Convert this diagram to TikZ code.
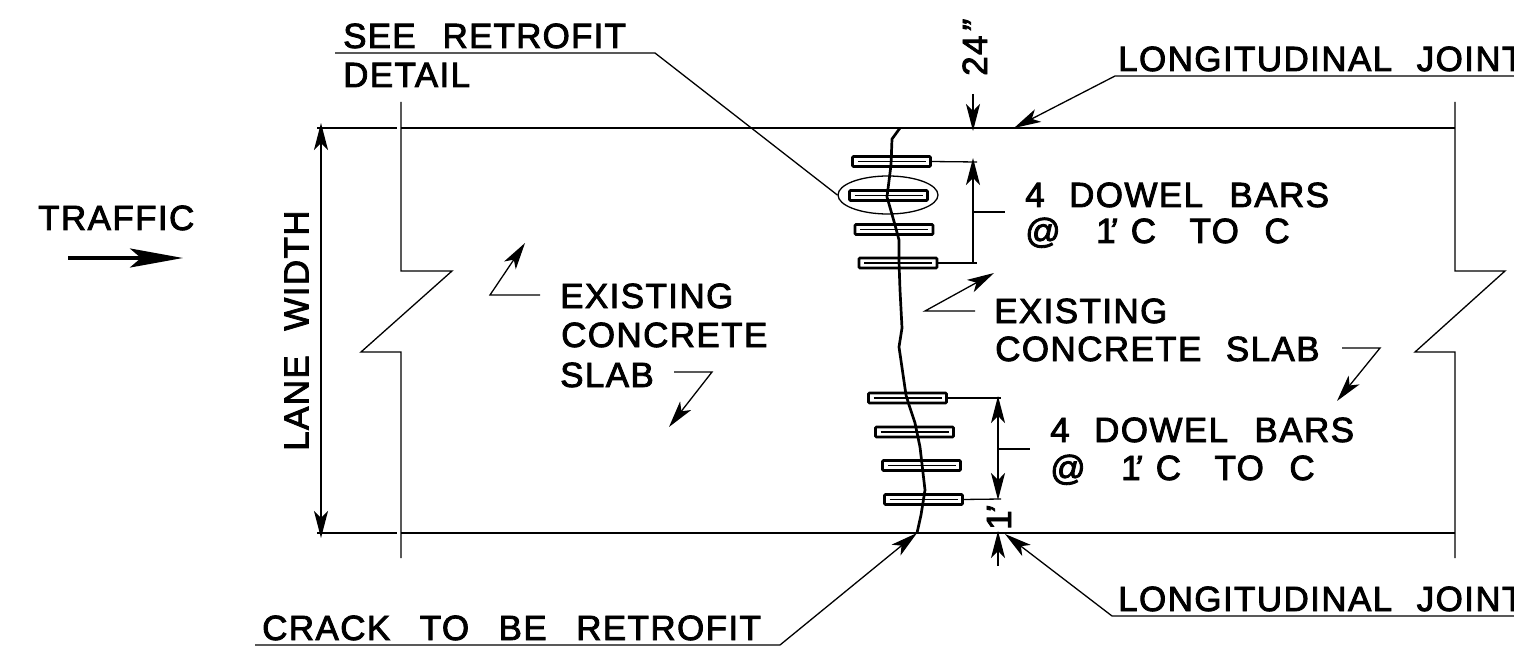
\documentclass[tikz,border=0pt]{standalone}
\usepackage{fontspec}
\setmainfont[LetterSpace=4,WordSpace=2.2,FakeBold=2.4]{Liberation Sans}
\usetikzlibrary{arrows.meta,shapes.geometric}
\newcommand{\ccspec}{@\hspace{11pt} 1\kern-7pt\textit{'}\kern-12pt\ C\hspace{9pt} TO\hspace{1pt} C}
\tikzset{
  lbl/.style={inner sep=0pt,anchor=base west,font=\fontsize{35}{35}\selectfont},
  thin line/.style={line width=1.3pt},
  slab/.style={line width=2.7pt},
  crackline/.style={line width=2.7pt,line join=round},
  barbox/.style={draw,line width=2.6pt,rounded corners=1pt,inner sep=0pt,outer sep=0pt,minimum width=78pt,minimum height=10pt},
  barcore/.style={line width=1.1pt},
  tip/.style={-{Stealth[length=27pt,width=14pt,inset=7pt]}},
  tips/.style={{Stealth[length=27pt,width=14pt,inset=7pt]}-{Stealth[length=27pt,width=14pt,inset=7pt]}},
}
\begin{document}
\begin{tikzpicture}[x=1pt,y=-1pt]
\useasboundingbox (0,0) rectangle (1514,652);
\clip (0,0) rectangle (1514,652);
% labels
\node[lbl] (traffic) at (38,230) {TRAFFIC};
\node[lbl,rotate=90] (lane) at (308.5,451) {LANE WIDTH};
\node[lbl] (see) at (343,48) {\addfontfeature{LetterSpace=3.4}SEE\hspace{3pt} RETROFIT};
\node[lbl] (detail) at (343,87) {DETAIL};
\node[lbl,rotate=90] (dim24) at (987,76) {24\kern3pt\textit{"}};
\node[lbl,rotate=90] (dim1) at (1011,530) {1\kern-4pt\textit{'}};
\node[lbl] (jointa) at (1118,71) {LONGITUDINAL JOINT};
\node[lbl] (jointb) at (1118,611) {LONGITUDINAL JOINT};
\node[lbl] (crack) at (262,640) {CRACK\hspace{5pt} TO\hspace{5pt} BE\hspace{5pt} RETROFIT};
\node[lbl] (dowa) at (1025,207) {4 DOWEL\hspace{2pt} BARS};
\node[lbl] (cca) at (1025,243) {\ccspec};
\node[lbl] (dowb) at (1050,442) {4 DOWEL\hspace{2pt} BARS};
\node[lbl] (ccb) at (1050,480) {\ccspec};
\node[lbl] (exa) at (560,308) {EXISTING};
\node[lbl] (exb) at (561,347) {CONCRETE};
\node[lbl] (exc) at (560,387) {SLAB};
\node[lbl] (exd) at (994,323) {EXISTING};
\node[lbl] (exe) at (995,361) {CONCRETE SLAB};
% slab edges
\coordinate (tl) at (401,128); \coordinate (tr) at (1455,128);
\coordinate (bl) at (401,533); \coordinate (br) at (1455,533);
\draw[slab] (tl) -- (tr);
\draw[slab] (bl) -- (br);
% break lines
\draw[thin line,line join=miter] (401,102) -- (401,271) -- (452,271) -- (361,352) -- (401,352) -- (401,558);
\draw[thin line,line join=miter] (1455,102) -- (1455,271) -- (1505,271) -- (1415,352) -- (1455,352) -- (1455,558);
% lane width dimension
\draw[thin line] (317,128) -- (397,128);
\draw[thin line] (317,533) -- (397,533);
\draw[thin line,tips] (321,123) -- (321,538);
% traffic arrow
\coordinate (tra) at (68,258); \coordinate (trb) at (183,258);
\draw[line width=4pt,-{Stealth[length=53pt,width=19pt,inset=11pt]}] (tra) -- (trb);
% crack
\draw[crackline] (900,128) -- (892,139) -- (891,165) -- (887,197) -- (895,225) -- (899,240) -- (899,262) -- (900,290) -- (902,328) -- (899,347) -- (906,395) -- (909,405) -- (915,423) -- (920,447) -- (925,490) -- (921,515) -- (917,533);
% dowel bars
\foreach \n/\cx/\cy in {a/891.5/161.5,b/888.5/195.5,c/894/229.5,d/898/263,e/907.5/398,f/914.5/432,g/921.5/465.5,h/923.5/499.5}{
  \node[barbox] (bar\n) at (\cx,\cy) {};
  \draw[barcore] ([xshift=5pt]bar\n.west) -- ([xshift=-5pt]bar\n.east);
}
% detail ellipse and leader
\node[draw,ellipse,thin line,minimum width=100pt,minimum height=38pt,inner sep=0pt] (det) at (888,195) {};
\coordinate (seeb) at (335,53); \coordinate (seec) at (655,53);
\draw[thin line] (seeb) -- (seec) -- (det.west);
% 24" and upper dowel dims
\coordinate (a24) at (973,94); \coordinate (t24) at (973,131);
\draw[thin line,tip] (a24) -- (t24);
\coordinate (ua) at (977,162); \coordinate (ub) at (977,263); \coordinate (uc) at (973,158); \coordinate (ud) at (973,263);
\draw[thin line] (bara.east) -- (ua);
\draw[thin line] (bard.east) -- (ub);
\draw[thin line,tip] (ud) -- (uc);
\draw[thin line] (973,212) -- (1005,212);
% lower dowel dims
\coordinate (la) at (1001,398); \coordinate (lb) at (1001,499);
\draw[thin line] (bare.east) -- (la);
\draw[thin line] (barh.east) -- (lb);
\draw[thin line,tips] (998,396) -- (998,500);
\draw[thin line] (998,449) -- (1030,449);
\draw[thin line,tip] (998,566) -- (998,531);
% joint leaders
\draw[thin line,tip] (1514,76) -- (1115,76) -- (1014,128);
\draw[thin line,tip] (1514,616) -- (1112,616) -- (1005,534);
\draw[thin line,tip] (255,645) -- (780,645) -- (917,533);
% slab leaders
\draw[thin line,tip] (540,295) -- (490,295) -- (525,243);
\draw[thin line,tip] (674,372) -- (712,372) -- (669,427);
\draw[thin line,tip] (975,311) -- (925,311) -- (994,273);
\draw[thin line,tip] (1342,348) -- (1380,348) -- (1337,401);
\end{tikzpicture}
\end{document}
